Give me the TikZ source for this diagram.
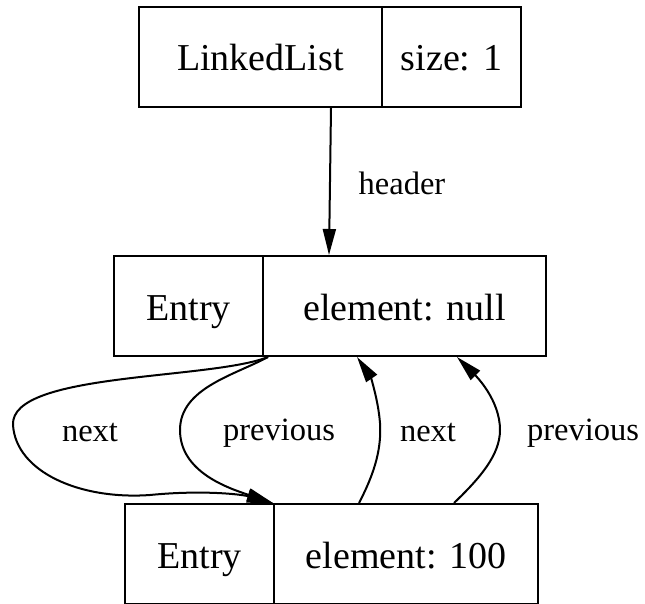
\documentclass[tikz,border=0pt]{standalone}
\usepackage{fontspec}
\setmainfont{Liberation Serif}
\usetikzlibrary{arrows.meta,calc}
\begin{document}
\begin{tikzpicture}[x=1pt,y=-1pt,
  cell/.style={draw,line width=2pt,rectangle,inner sep=0pt,minimum height=100pt,
    text height=36pt,text depth=8pt,font=\fontsize{38}{40}\selectfont},
  link/.style={line width=2pt,-{Triangle[length=26pt,width=13pt]}},
  lbl/.style={font=\fontsize{32.5}{34}\selectfont,inner sep=0pt}]
\useasboundingbox (0,0) rectangle (645,604);

% LinkedList record
\node[cell,minimum width=243pt] (ll) at (260.5,57) {LinkedList};
\node[cell,minimum width=139pt] (llsize) at (451.5,57) {size: 1};

% header entry record
\node[cell,minimum width=149pt] (hdr) at (188.5,306) {Entry};
\node[cell,minimum width=283pt] (hdrval) at (404.5,306) {element: null};

% entry holding 100
\node[cell,minimum width=149pt] (ent) at (199.5,554) {Entry};
\node[cell,minimum width=264pt] (entval) at (406,554) {element: 100};

% connector end points on the record borders
\coordinate (hs) at ($(ll.south east)+(-52,0)$);
\coordinate (ht) at ($(hdrval.north west)+(67,0)$);
\coordinate (hb) at ($(hdr.south east)+(4,0)$);
\coordinate (et) at ($(ent.north east)+(-2,0)$);
\coordinate (en) at ($(entval.north west)+(86,0)$);
\coordinate (ep) at ($(entval.north west)+(181,0)$);
\coordinate (hn) at ($(hdrval.south west)+(95,0)$);
\coordinate (hp) at ($(hdrval.south west)+(195,0)$);

\draw[link] (hs) -- (ht);
\node[lbl] (lheader) at (402,183) {header};

% header.next and header.previous
\draw[link] (hb) .. controls (210,380) and (10,372) .. (13,425)
  .. controls (16,472) and (80,500) .. (150,495)
  .. controls (200,490) and (240,494) .. (et);
\draw[link] (hb) .. controls (235,375) and (180,388) .. (180,430)
  .. controls (180,472) and (228,488) .. (et);
\node[lbl] (lnext1) at (90,433) {next};
\node[lbl] (lprev1) at (279,433) {previous};

% entry.next and entry.previous
\draw[link] (en) .. controls (372,478) and (382,452) .. (380,423)
  .. controls (378,398) and (370,376) .. (hn);
\draw[link] (ep) .. controls (480,478) and (500,455) .. (500,430)
  .. controls (500,400) and (476,376) .. (hp);
\node[lbl] (lnext2) at (428,433) {next};
\node[lbl] (lprev2) at (583,433) {previous};
\end{tikzpicture}
\end{document}
